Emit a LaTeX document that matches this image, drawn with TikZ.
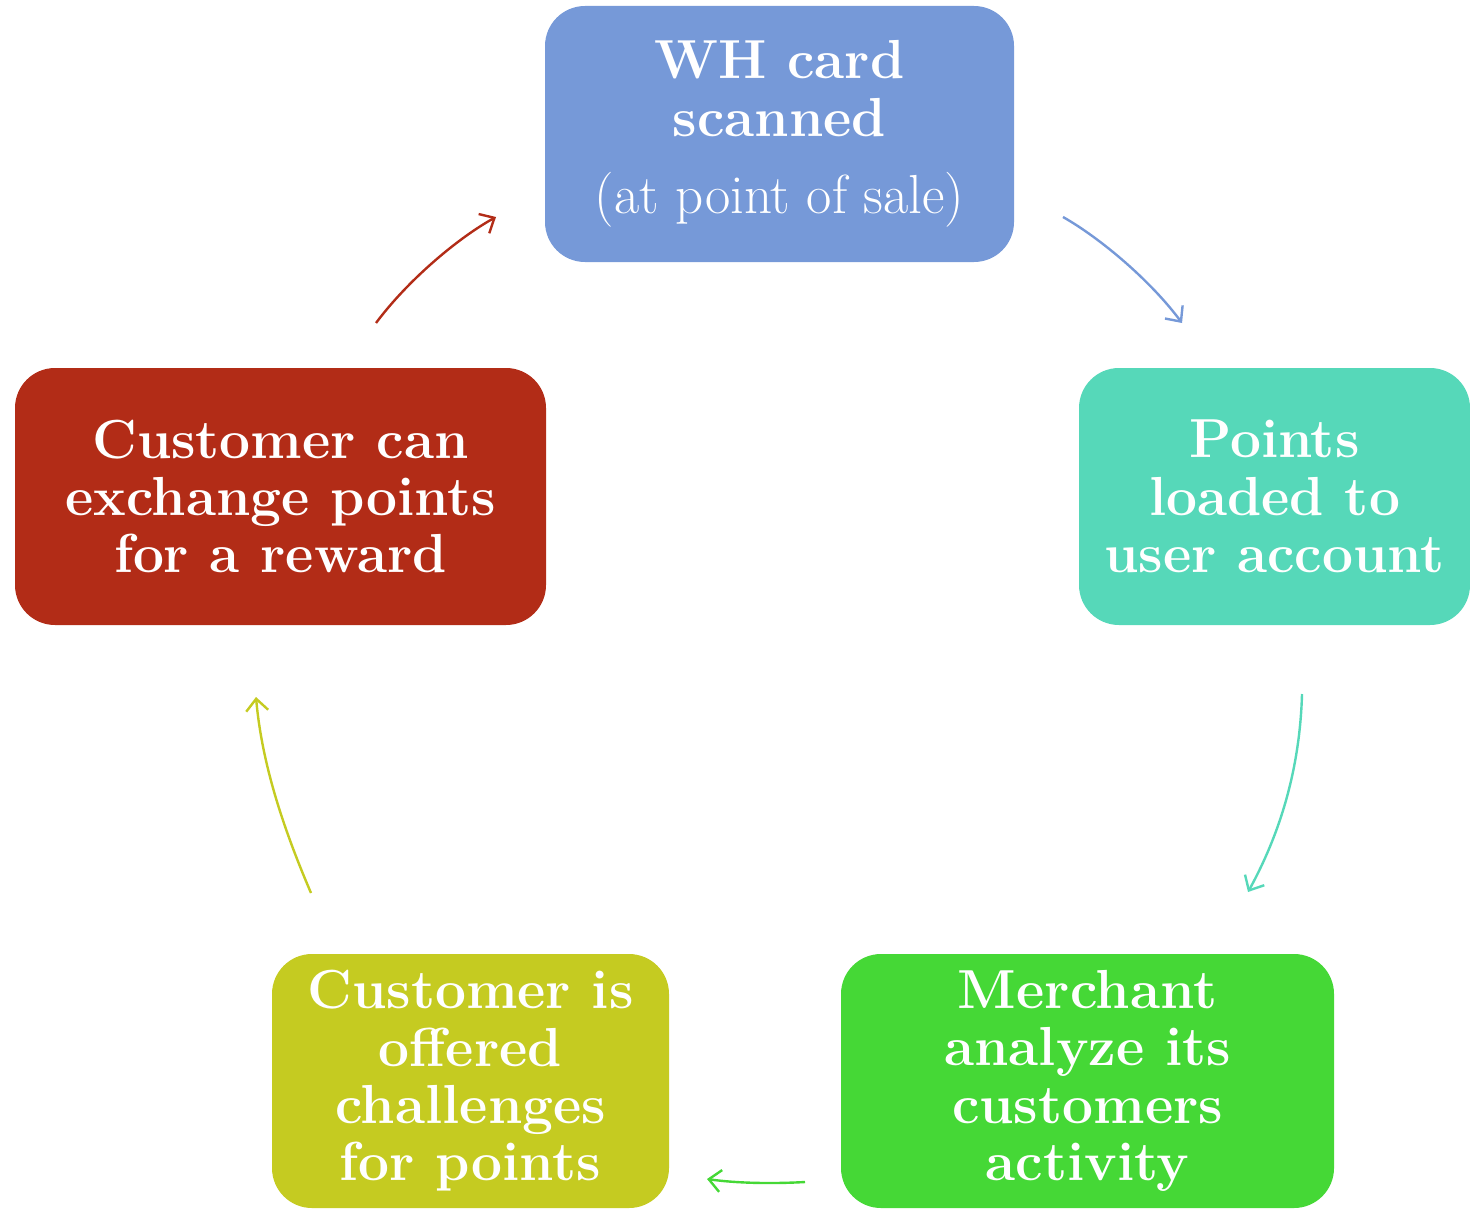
\documentclass[tikz,border=0pt]{standalone}
\usetikzlibrary{arrows.meta}
\definecolor{cblue}{HTML}{7699D8}
\definecolor{cteal}{HTML}{56D8B9}
\definecolor{cgreen}{HTML}{45D836}
\definecolor{cyellow}{HTML}{C5CB21}
\definecolor{cred}{HTML}{B22C17}
\tikzset{
  stepbox/.style={rectangle, rounded corners=20pt, inner sep=0pt, text=white,
    align=center, font=\fontsize{27.5}{28.7}\selectfont\bfseries},
  flow/.style={line width=1.2pt, -{Straight Barb[length=6pt,width=11pt]}}
}
\begin{document}
\begin{tikzpicture}[x=0.5pt,y=-0.5pt]
\useasboundingbox (0,0) rectangle (1470,1209);
% boxes
\node[stepbox, fill=cblue, minimum width=234.5pt, minimum height=128pt] (scan) at (779.5,134)
  {WH card\\scanned\\[10pt]{\mdseries (at point of sale)}};
\node[stepbox, fill=cteal, minimum width=195.5pt, minimum height=128.5pt] (load) at (1274.5,496.5)
  {Points\\loaded to\\user account};
\node[stepbox, fill=cgreen, minimum width=246.5pt, minimum height=127pt] (merch) at (1087.5,1081)
  {Merchant\\analyze its\\customers\\activity};
\node[stepbox, fill=cyellow, minimum width=198.5pt, minimum height=127pt] (chal) at (470.5,1081)
  {Customer is\\offered\\challenges\\for points};
\node[stepbox, fill=cred, minimum width=265.5pt, minimum height=128.5pt] (rew) at (280.5,496.5)
  {Customer can\\exchange points\\for a reward};
% arrow ends
\coordinate (a1s) at (1063,217); \coordinate (a1e) at (1182,323);
\coordinate (a2s) at (1302,694); \coordinate (a2e) at (1248,892);
\coordinate (a3s) at (805,1182); \coordinate (a3e) at (707,1179);
\coordinate (a4s) at (311,893);  \coordinate (a4e) at (256,697);
\coordinate (a5s) at (376,323);  \coordinate (a5e) at (496,217);
% arrows
\draw[flow, cblue] (a1s) .. controls (1100,238) and (1150,280) .. (a1e);
\draw[flow, cteal] (a2s) .. controls (1300,765) and (1282,830) .. (a2e);
\draw[flow, cgreen] (a3s) .. controls (770,1184) and (735,1183) .. (a3e);
\draw[flow, cyellow] (a4s) .. controls (284,830) and (262,765) .. (a4e);
\draw[flow, cred] (a5s) .. controls (408,280) and (458,238) .. (a5e);
\end{tikzpicture}
\end{document}
